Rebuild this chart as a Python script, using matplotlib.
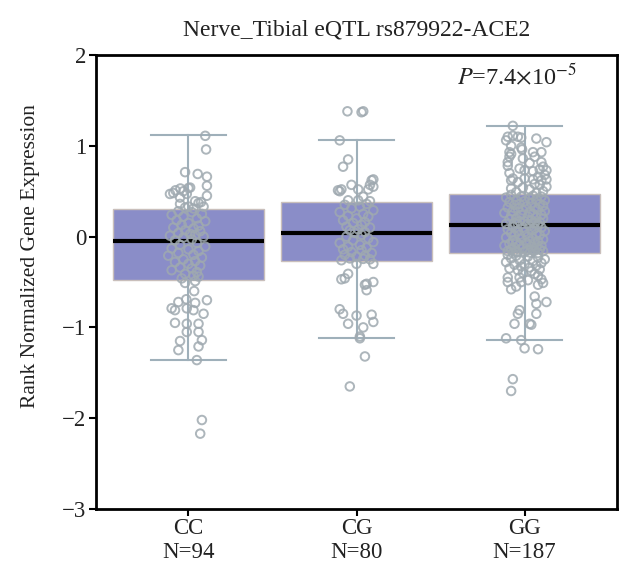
import matplotlib
matplotlib.use("Agg")
import matplotlib.pyplot as plt
import numpy as np

plt.rcParams['font.family'] = ['Liberation Serif', 'DejaVu Serif']
plt.rcParams['mathtext.fontset'] = 'stix'

title = "Nerve_Tibial eQTL rs879922-ACE2"
ylabel = "Rank Normalized Gene Expression"
categories = ["CC", "CG", "GG"]
counts = [94, 80, 187]
p_text = r"$P$=7.4$\times$10$^{-5}$"

# box statistics
q1 = [-0.478, -0.265, -0.184]
med = [-0.052, 0.036, 0.131]
q3 = [0.30, 0.378, 0.469]
whislo = [-1.359, -1.12, -1.139]
whishi = [1.116, 1.064, 1.218]

# individual samples (values) and their horizontal jitter as seen in the picture
cc_values = [1.11, 0.96, 0.71, 0.69, 0.66, 0.56, 0.45, 0.47, 0.51, 0.53, 0.50, 0.535, 0.54, 0.43, 0.47, 0.48,
             0.36, 0.39, 0.37, 0.33, 0.33, 0.38, 0.32, 0.31,
             -0.51, -0.49, -0.60, -0.70, -0.72, -0.69, -0.73, -0.79, -0.81, -0.79, -0.81, -0.85, -0.95, -0.96,
             -0.96, -1.05, -1.05, -1.15, -1.14, -1.25, -1.21, -1.36, -2.02, -2.17,
             0.28, 0.27, 0.25, 0.24, 0.22, 0.20, 0.18, 0.17, 0.15, 0.13, 0.12, 0.10, 0.09, 0.07, 0.06, 0.04,
             0.03, 0.02, 0.01, 0.00, -0.01, -0.03, -0.04,
             -0.07, -0.09, -0.11, -0.13, -0.14, -0.16, -0.18, -0.20, -0.21, -0.23, -0.25, -0.27, -0.28, -0.30,
             -0.32, -0.34, -0.35, -0.37, -0.39, -0.41, -0.43, -0.44, -0.46]
cc_jitter = [0.10, 0.105, -0.02, 0.055, 0.11, 0.11, 0.11, -0.11, -0.077, -0.048, -0.03, 0.0, 0.01, -0.05, -0.01, -0.09,
             -0.05, 0.04, 0.06, 0.09, 0.0, 0.075, -0.02, 0.03,
             -0.02, 0.04, 0.034, 0.11, -0.06, -0.013, 0.04, -0.10, -0.08, -0.01, 0.03, 0.09, -0.08, -0.01,
             0.06, -0.01, 0.06, -0.05, 0.08, -0.06, 0.06, 0.05, 0.08, 0.07,
             -0.06, 0.02, 0.08, -0.10, -0.03, 0.05, -0.07, 0.10, 0.0, -0.04, 0.06, -0.09, 0.03, -0.02, 0.07, -0.06,
             0.01, 0.04, -0.11, 0.09, -0.03, 0.02, -0.08,
             0.05, -0.05, 0.10, -0.10, 0.0, 0.06, -0.06, 0.03, -0.12, 0.08, -0.03, 0.04, -0.08, 0.0,
             0.07, -0.05, 0.02, -0.10, 0.05, -0.02, 0.03, 0.06, -0.04]

cg_values = [1.38, 1.37, 1.38, 1.06, 0.85, 0.77, 0.57, 0.51, 0.52, 0.50, 0.52, 0.52, 0.57, 0.55, 0.62, 0.63,
             0.40, 0.40, 0.39, 0.44,
             -0.30, -0.30, -0.41, -0.47, -0.46, -0.53, -0.52, -0.50, -0.59, -0.80, -0.85, -0.87, -0.86, -0.96,
             -0.94, -1.00, -1.10, -1.12, -1.32, -1.65,
             0.36, 0.35, 0.33, 0.31, 0.29, 0.27, 0.25, 0.23, 0.22, 0.20, 0.18, 0.16, 0.15, 0.13, 0.11, 0.10,
             0.08, 0.07, 0.05, 0.04,
             0.02, 0.00, -0.02, -0.04, -0.06, -0.07, -0.09, -0.11, -0.12, -0.14, -0.15, -0.17, -0.18, -0.20,
             -0.21, -0.22, -0.24, -0.25, -0.26, -0.245]
cg_jitter = [-0.054, 0.03, 0.04, -0.10, -0.05, -0.08, -0.03, -0.11, -0.09, -0.10, 0.01, 0.07, 0.08, 0.10, 0.09, 0.10,
             -0.05, 0.01, 0.08, 0.04,
             0.0, 0.10, -0.05, -0.09, -0.07, 0.05, 0.06, 0.10, 0.06, -0.10, -0.08, 0.0, 0.09, -0.05,
             0.10, 0.04, 0.02, 0.02, 0.05, -0.04,
             0.06, -0.07, 0.02, -0.03, 0.10, -0.10, 0.04, -0.05, 0.07, 0.0, -0.08, 0.05, -0.02, 0.03, -0.06, 0.08,
             0.01, -0.04, 0.05, -0.01,
             0.03, -0.06, 0.07, -0.02, 0.10, -0.10, 0.02, -0.05, 0.06, -0.08, 0.03, -0.03, 0.09, -0.07,
             0.05, 0.0, -0.04, 0.08, -0.09, 0.04]

gg_values = [1.22, 1.10, 1.11, 1.10, 1.09, 1.06, 1.00, 0.93, 0.91, 0.88, 0.82, 0.78, 0.98, 0.96, 1.08, 1.04,
             0.93, 0.93, 0.88, 0.82, 0.81, 0.77, 0.74, 0.73, 0.75, 0.73, 0.72, 0.68, 0.63, 0.66, 0.62, 0.63,
             0.64, 0.64, 0.62, 0.60, 0.58, 0.57, 0.55, 0.53, 0.54, 0.52, 0.50, 0.49, 0.48, 0.86, 0.70,
             -0.20, -0.21, -0.22, -0.23, -0.24, -0.25, -0.26, -0.27, -0.28, -0.29, -0.30, -0.31, -0.32, -0.33,
             -0.34, -0.35, -0.36, -0.37, -0.38, -0.40, -0.41,
             -0.45, -0.50, -0.58, -0.45, -0.50, -0.43, -0.47, -0.51, -0.53, -0.55, -0.48,
             -0.66, -0.74, -0.72, -0.85, -0.81, -0.85, -0.96, -0.96, -0.97,
             -1.12, -1.14, -1.23, -1.24, -1.57, -1.70,
             0.46, 0.45, 0.44, 0.44, 0.43, 0.42, 0.41, 0.40, 0.40, 0.39, 0.38, 0.37, 0.36, 0.36, 0.35, 0.34,
             0.33, 0.32, 0.32, 0.31, 0.30, 0.29, 0.28, 0.28, 0.27, 0.26, 0.25, 0.24, 0.24, 0.23, 0.22, 0.21,
             0.20, 0.20, 0.19, 0.18, 0.17, 0.17, 0.16, 0.15, 0.15, 0.14, 0.14, 0.135, 0.14, 0.15,
             0.12, 0.11, 0.10, 0.10, 0.09, 0.08, 0.07, 0.06, 0.06, 0.05, 0.04, 0.03, 0.02, 0.02, 0.01, 0.00,
             -0.01, -0.02, -0.02, -0.03, -0.04, -0.05, -0.05, -0.06, -0.07, -0.08, -0.08, -0.09, -0.10, -0.10,
             -0.11, -0.12, -0.12, -0.13, -0.14, -0.14, -0.15, -0.15, -0.16, -0.16, -0.17, -0.17, -0.18, -0.18,
             -0.175, -0.165, -0.155]
gg_jitter = [-0.07, -0.10, -0.07, -0.04, -0.02, -0.11, -0.08, -0.09, -0.08, -0.09, -0.10, -0.10, -0.02, -0.015, 0.07, 0.13,
             0.05, 0.10, 0.06, 0.10, 0.03, 0.11, 0.09, 0.13, -0.03, 0.0, 0.05, 0.12, 0.13, 0.08, 0.10, 0.05,
             0.0, -0.07, -0.08, -0.04, 0.06, 0.09, 0.13, -0.08, -0.01, 0.03, 0.11, -0.05, 0.07, -0.01, -0.09,
             -0.10, -0.05, 0.02, 0.08, -0.08, 0.12, -0.03, 0.05, -0.11, 0.10, 0.0, -0.06, 0.07, -0.02,
             0.03, -0.09, 0.09, -0.04, 0.04, -0.01, 0.06,
             -0.10, -0.10, -0.08, -0.03, -0.02, 0.08, 0.10, 0.11, 0.08, -0.05, 0.02,
             0.06, 0.07, 0.13, 0.07, -0.03, -0.04, -0.06, 0.03, 0.04,
             -0.11, -0.02, 0.0, 0.08, -0.07, -0.08,
             -0.08, 0.05, -0.02, 0.10, -0.11, 0.03, 0.07, -0.05, 0.12, 0.0, -0.09, 0.04, -0.03, 0.09, -0.06, 0.11,
             0.01, -0.10, 0.06, -0.04, 0.08, -0.01, 0.12, -0.07, 0.03, -0.12, 0.05, -0.02, 0.10, -0.08, 0.02, 0.07,
             -0.05, 0.11, -0.09, 0.04, 0.0, -0.03, 0.09, -0.06, 0.06, -0.11, 0.02, 0.08, -0.04, 0.05,
             0.03, -0.07, 0.10, -0.01, 0.06, -0.10, 0.04, -0.04, 0.12, 0.0, -0.08, 0.07, -0.03, 0.09, -0.06, 0.02,
             -0.11, 0.05, -0.02, 0.11, -0.07, 0.03, 0.08, -0.05, 0.01, -0.09, 0.06, -0.03, 0.10, -0.12,
             0.04, -0.06, 0.07, -0.01, 0.09, -0.08, 0.02, 0.05, -0.10, 0.11, -0.04, 0.0, 0.08, -0.07,
             0.03, -0.05, 0.06]

all_values = [cc_values, cg_values, gg_values]
all_jitter = [cc_jitter, cg_jitter, gg_jitter]

fig = plt.figure(figsize=(6.21, 5.66), dpi=100)
ax = fig.add_axes([0.1546, 0.1007, 0.8390, 0.8021])

positions = np.arange(len(categories))
stats = []
for i, c in enumerate(categories):
    stats.append(dict(label=c, q1=q1[i], med=med[i], q3=q3[i], whislo=whislo[i], whishi=whishi[i], fliers=[]))

ax.bxp(stats, positions=positions, widths=0.9, patch_artist=True, showfliers=False,
       boxprops=dict(facecolor='#8a8dc8', edgecolor='#c9bfbb', linewidth=1.0),
       whiskerprops=dict(color='#9fb0ba', linewidth=1.5),
       capprops=dict(color='#9fb0ba', linewidth=1.5),
       capwidths=0.445,
       medianprops=dict(color='black', linewidth=3.0), zorder=2)

for i in range(len(categories)):
    xs = positions[i] + np.asarray(all_jitter[i])
    ax.scatter(xs, all_values[i], s=38, facecolors='none', edgecolors='#9fa9b0',
               linewidths=1.4, alpha=0.85, zorder=3)

ax.set_xlim(-0.55, 2.55)
ax.set_ylim(-3, 2)
ax.set_yticks([-3, -2, -1, 0, 1, 2])
ax.set_xticks(positions)
ax.set_xticklabels([f"{c}\nN={n}" for c, n in zip(categories, counts)], fontsize=16.5,
                   linespacing=1.2)
ax.tick_params(axis='y', labelsize=16.5, direction='out', length=5, width=1.5, pad=2)
ax.tick_params(axis='x', direction='out', length=5, width=1.5, pad=1.5)
for t in ax.get_xticklabels() + ax.get_yticklabels():
    t.set_color('#222222')
for s in ax.spines.values():
    s.set_linewidth(2.0)
    s.set_color('black')

ax.set_ylabel(ylabel, fontsize=15.5, color='#222222')
ax.yaxis.set_label_coords(-0.107, 0.557)
ax.set_title(title, fontsize=17, color='#222222', pad=14)
ax.text(0.808, 0.953, p_text, transform=ax.transAxes, fontsize=17.5, ha='center', va='center',
        color='#222222')

fig.savefig("out.png", dpi=100, facecolor='white')
